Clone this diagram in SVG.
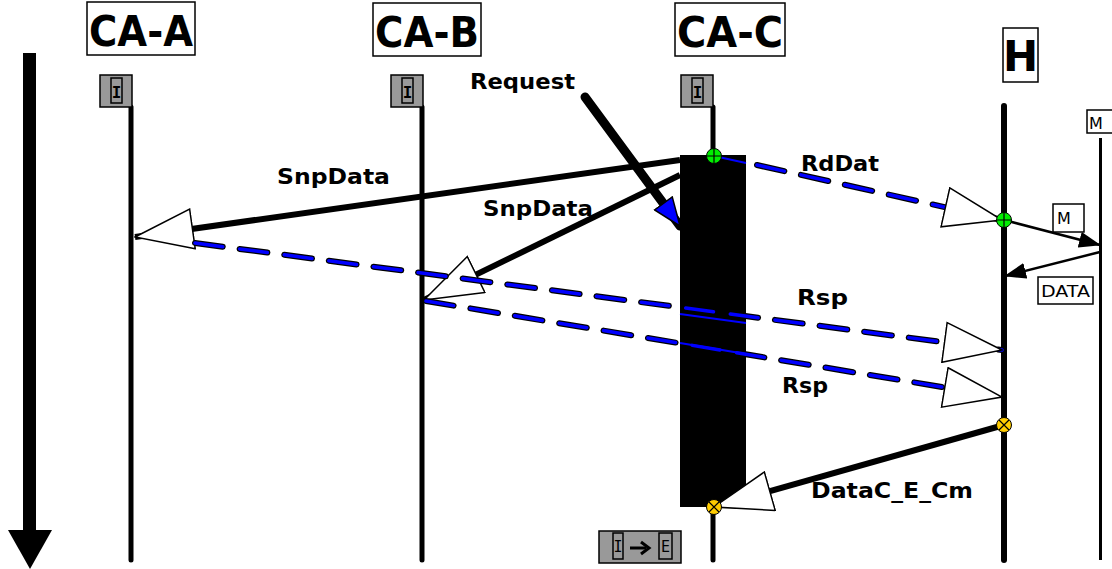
<svg xmlns="http://www.w3.org/2000/svg" width="1112" height="569" viewBox="0 0 1112 569">
<style>
.title{font-family:"DejaVu Sans",Verdana,sans-serif;font-weight:bold;font-size:42px;fill:#000}
.lbl{font-family:"DejaVu Sans",Verdana,sans-serif;font-weight:bold;font-size:22px;fill:#000}
.small{font-family:"DejaVu Sans",Verdana,sans-serif;font-size:16px;fill:#000}
.box{fill:#fff;stroke:#000;stroke-width:1.5}
.life{stroke:#000;stroke-width:5;stroke-linecap:round;fill:none}
.state{fill:#999;stroke:#000;stroke-width:1.5}
.solid{stroke:#000;stroke-width:6;fill:none}
.dashO{stroke:#000;stroke-width:6;stroke-dasharray:28 17;stroke-linecap:round;fill:none}
.dashI{stroke:#0000ff;stroke-width:3.5;stroke-dasharray:28 17;stroke-linecap:round;fill:none}
.thin{stroke:#000;stroke-width:2.5;fill:none}
</style>
<defs>
<marker id="hollow" markerUnits="userSpaceOnUse" viewBox="0 0 60 42" markerWidth="60" markerHeight="42" refX="59" refY="21" orient="auto">
<path d="M1,1 L59,21 L1,41 Z" fill="#fff" stroke="#000" stroke-width="1.5"/>
</marker>
<marker id="filled" markerUnits="userSpaceOnUse" viewBox="0 0 22 16" markerWidth="22" markerHeight="16" refX="21" refY="8" orient="auto">
<path d="M0,0 L22,8 L0,16 Z" fill="#000"/>
</marker>
<marker id="blueTip" markerUnits="userSpaceOnUse" viewBox="0 0 30 24" markerWidth="30" markerHeight="24" refX="29" refY="12" orient="auto">
<path d="M1,1 L29,12 L1,23 Z" fill="#0000ff" stroke="#000" stroke-width="1.5"/>
</marker>
</defs>
<rect width="1112" height="569" fill="#fff"/>

<g id="time">
<rect x="23" y="53" width="13" height="480" fill="#000"/>
<path d="M8,530 L52,530 L30,569 Z" fill="#000"/>
</g>

<g id="CA-A">
<rect class="box" x="87" y="2" width="108" height="53"/>
<text class="title" x="89" y="46" textLength="104" lengthAdjust="spacingAndGlyphs">CA-A</text>
<line class="life" x1="131" y1="107" x2="131" y2="560"/>
<rect class="state" x="100" y="75" width="32" height="32"/>
<rect class="state" x="111" y="78" width="11" height="25"/>
<text x="116.5" y="98" text-anchor="middle" font-family="DejaVu Sans Mono,monospace" font-size="16" font-weight="bold">I</text>
</g>
<g id="CA-B">
<rect class="box" x="373" y="3" width="108" height="53"/>
<text class="title" x="375" y="47" textLength="104" lengthAdjust="spacingAndGlyphs">CA-B</text>
<line class="life" x1="422" y1="107" x2="422" y2="560"/>
<rect class="state" x="391" y="75" width="32" height="32"/>
<rect class="state" x="402" y="78" width="11" height="25"/>
<text x="407.5" y="98" text-anchor="middle" font-family="DejaVu Sans Mono,monospace" font-size="16" font-weight="bold">I</text>
</g>
<g id="CA-C">
<rect class="box" x="675" y="3" width="110" height="53"/>
<text class="title" x="677" y="47" textLength="106" lengthAdjust="spacingAndGlyphs">CA-C</text>
<line class="life" x1="713" y1="107" x2="713" y2="560"/>
<rect class="state" x="681" y="75" width="32" height="32"/>
<rect class="state" x="692" y="78" width="11" height="25"/>
<text x="697.5" y="98" text-anchor="middle" font-family="DejaVu Sans Mono,monospace" font-size="16" font-weight="bold">I</text>
<rect x="680" y="155" width="66" height="352" fill="#000"/>
</g>
<g id="H">
<rect class="box" x="1003" y="28" width="35" height="54"/>
<text class="title" x="1020.5" y="71" text-anchor="middle">H</text>
<line class="life" x1="1004" y1="106" x2="1004" y2="560" style="stroke-width:6"/>
</g>
<g id="M">
<rect class="box" x="1087" y="110" width="30" height="23"/>
<text class="small" x="1089" y="129">M</text>
<line x1="1100.5" y1="138" x2="1100.5" y2="560" stroke="#000" stroke-width="3"/>
</g>

<g id="connectors">
<line class="solid" x1="680" y1="160" x2="135" y2="237" marker-end="url(#hollow)"/>
<line class="solid" x1="680" y1="175" x2="424" y2="300" marker-end="url(#hollow)"/>
<line x1="585" y1="97" x2="680" y2="226" stroke="#000" stroke-width="9" stroke-linecap="round" marker-end="url(#blueTip)"/>
<line x1="714" y1="156" x2="746" y2="163" stroke="#0000ff" stroke-width="2"/>
<line class="dashO" x1="757" y1="165" x2="1002" y2="220"/>
<line class="dashI" x1="757" y1="165" x2="1002" y2="220" marker-end="url(#hollow)"/>
<line class="dashO" x1="195" y1="243" x2="1002" y2="350"/>
<line class="dashI" x1="195" y1="243" x2="1002" y2="350" marker-end="url(#hollow)"/>
<line x1="680" y1="314" x2="746" y2="323" stroke="#0000ff" stroke-width="2"/>
<line class="dashO" x1="426" y1="301" x2="1002" y2="397"/>
<line class="dashI" x1="426" y1="301" x2="1002" y2="397" marker-end="url(#hollow)"/>
<line x1="680" y1="343" x2="746" y2="354" stroke="#0000ff" stroke-width="2"/>
<line class="thin" x1="1004" y1="220" x2="1100" y2="245" marker-end="url(#filled)"/>
<line class="thin" x1="1100" y1="252" x2="1005" y2="276" marker-end="url(#filled)"/>
<line class="solid" x1="1004" y1="425" x2="714" y2="507" marker-end="url(#hollow)"/>
</g>

<g id="dots">
<g transform="translate(714,156)"><circle r="7.5" fill="#00ee00" stroke="#000" stroke-width="1"/><path d="M-7,0 H7 M0,-7 V7" stroke="#000" stroke-width="1.2"/></g>
<g transform="translate(1004,220)"><circle r="7.5" fill="#00ee00" stroke="#000" stroke-width="1"/><path d="M-7,0 H7 M0,-7 V7" stroke="#000" stroke-width="1.2"/></g>
<g transform="translate(1004,425)"><circle r="7.5" fill="#ffcc00" stroke="#000" stroke-width="1"/><path d="M-5,-5 L5,5 M-5,5 L5,-5" stroke="#000" stroke-width="1.2"/></g>
<g transform="translate(714,507)"><circle r="7.5" fill="#ffcc00" stroke="#000" stroke-width="1"/><path d="M-5,-5 L5,5 M-5,5 L5,-5" stroke="#000" stroke-width="1.2"/></g>
</g>

<g id="labels">
<text class="lbl" x="277" y="184" textLength="113" lengthAdjust="spacingAndGlyphs">SnpData</text>
<text class="lbl" x="483" y="216" textLength="110" lengthAdjust="spacingAndGlyphs">SnpData</text>
<text class="lbl" x="470" y="89" textLength="105" lengthAdjust="spacingAndGlyphs">Request</text>
<text class="lbl" x="801" y="171" textLength="78" lengthAdjust="spacingAndGlyphs">RdDat</text>
<text class="lbl" x="797" y="305" textLength="51" lengthAdjust="spacingAndGlyphs">Rsp</text>
<text class="lbl" x="782" y="393" textLength="46" lengthAdjust="spacingAndGlyphs">Rsp</text>
<text class="lbl" x="811" y="498" textLength="162" lengthAdjust="spacingAndGlyphs">DataC_E_Cm</text>
<rect class="box" x="1053" y="204" width="31" height="28"/>
<text class="small" x="1057" y="224">M</text>
<rect class="box" x="1038" y="277" width="55" height="27"/>
<text class="small" x="1041" y="297" textLength="49" lengthAdjust="spacingAndGlyphs">DATA</text>
</g>

<g id="state-IE">
<rect class="state" x="599" y="531" width="82" height="32"/>
<rect class="state" x="613" y="533" width="10" height="26"/>
<text x="618" y="552" text-anchor="middle" font-family="DejaVu Sans Mono,monospace" font-size="15">I</text>
<path d="M630,548 H646" stroke="#000" stroke-width="3"/>
<path d="M641,542 L649,548 L641,554" fill="none" stroke="#000" stroke-width="3"/>
<rect class="state" x="659" y="533" width="13" height="26"/>
<text x="665.5" y="552" text-anchor="middle" font-family="DejaVu Sans Mono,monospace" font-size="15">E</text>
</g>
</svg>
